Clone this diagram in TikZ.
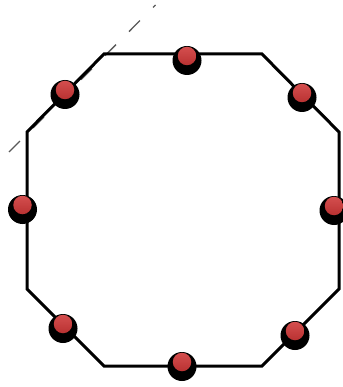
\documentclass[tikz,border=0pt]{standalone}
\definecolor{dottop}{RGB}{212,78,78}
\definecolor{dotbot}{RGB}{185,50,50}
\begin{document}
\begin{tikzpicture}[x=1pt,y=-1pt,
  edge/.style={line width=3pt,line join=miter,black},
  guide/.style={line width=1.3pt,gray!70!black,dash pattern=on 15.5pt off 18.5pt},
  shadowdot/.style={circle,fill=black,minimum size=29pt,inner sep=0pt},
  reddot/.style={circle,top color=dottop,bottom color=dotbot,minimum size=18.5pt,inner sep=0pt}]
\useasboundingbox (0,0) rectangle (342,387);
\coordinate (v1) at (104,54);
\coordinate (v2) at (262,54);
\coordinate (v3) at (339,132);
\coordinate (v4) at (339,289);
\coordinate (v5) at (262,366);
\coordinate (v6) at (104,366);
\coordinate (v7) at (27,289);
\coordinate (v8) at (27,132);
\coordinate (g1) at (9,152);
\coordinate (g2) at (155.5,5);
\draw[guide] (g1) -- (g2);
\draw[edge] (v1) -- (v2) -- (v3) -- (v4) -- (v5) -- (v6) -- (v7) -- (v8) -- cycle;
\foreach \n/\x/\y in {t/187/56, ul/65/90, ur/302/93, l/22.5/205, r/334/206, ll/63/324, lr/295/331, b/182/362}{
  \node[shadowdot] (s\n) at (\x,\y+4.5) {};
  \node[reddot] (d\n) at (\x,\y) {};
}
\end{tikzpicture}
\end{document}
